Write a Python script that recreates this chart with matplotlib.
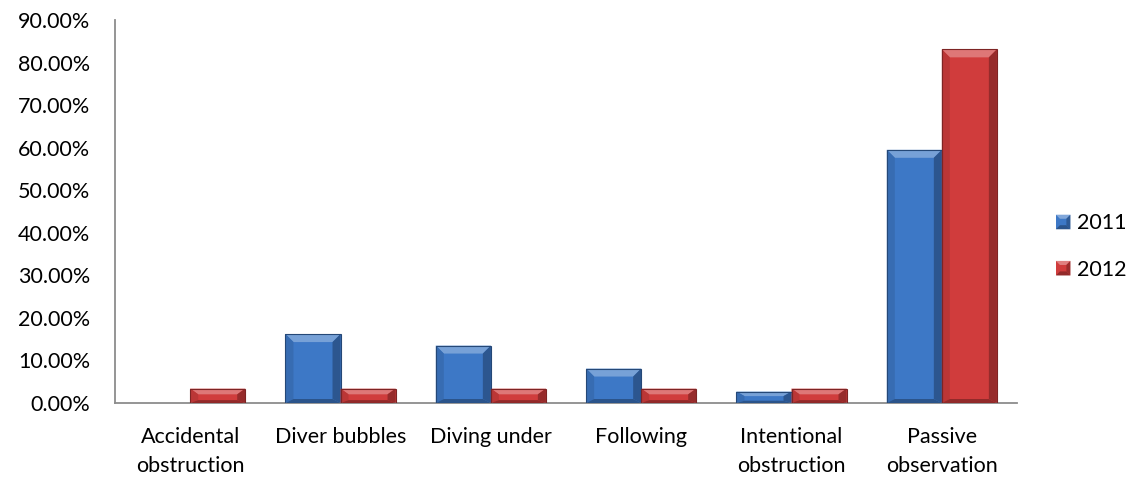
import matplotlib
matplotlib.use("Agg")
import matplotlib.pyplot as plt
from matplotlib.patches import Polygon, Patch
from matplotlib.legend_handler import HandlerPatch
import matplotlib.colors as mcolors
import numpy as np

categories = ["Accidental\nobstruction", "Diver bubbles", "Diving under",
              "Following", "Intentional\nobstruction", "Passive\nobservation"]
series_names = ["2011", "2012"]
values_2011 = [0.0, 16.2, 13.5, 8.1, 2.7, 59.5]
values_2012 = [3.4, 3.4, 3.4, 3.4, 3.4, 83.1]
y_ticks = [0, 10, 20, 30, 40, 50, 60, 70, 80, 90]

colors = {"2011": "#3d78c6", "2012": "#d03c3c"}

plt.rcParams["font.family"] = ["Lato", "DejaVu Sans"]
FS = 15.5

fig = plt.figure(figsize=(11.4, 4.83), dpi=100)
ax = fig.add_axes([0.1009, 0.1656, 0.7912, 0.793])

n = len(categories)
x = np.arange(n)
width = 0.366

ax.set_xlim(-0.5, n - 0.5)
ax.set_ylim(0, 90)


def shade(c, f):
    r, g, b = mcolors.to_rgb(c)
    if f >= 1:
        t = f - 1
        return (r + (1 - r) * t, g + (1 - g) * t, b + (1 - b) * t)
    return (r * f, g * f, b * f)


def bevel_bar(rect, color, bev_px=8):
    x0, y0 = rect.get_x(), rect.get_y()
    w, h = rect.get_width(), rect.get_height()
    if h <= 0:
        return
    # bevel size given in pixels, converted into data units
    p0 = ax.transData.transform((0, 0))
    p1 = ax.transData.transform((1, 1))
    ux = bev_px / (p1[0] - p0[0])
    uy = bev_px / (p1[1] - p0[1])
    by_top = min(uy, h * 0.4)
    by_bot = min(uy * 0.5, h * 0.2)
    bx = ux
    x1, y1 = x0 + w, y0 + h
    polys = [
        ([(x0, y1), (x1, y1), (x1 - bx, y1 - by_top), (x0 + bx, y1 - by_top)], shade(color, 1.3)),
        ([(x0, y0), (x0, y1), (x0 + bx, y1 - by_top), (x0 + bx, y0 + by_bot)], shade(color, 0.9)),
        ([(x1, y0), (x1, y1), (x1 - bx, y1 - by_top), (x1 - bx, y0 + by_bot)], shade(color, 0.72)),
        ([(x0, y0), (x1, y0), (x1 - bx, y0 + by_bot), (x0 + bx, y0 + by_bot)], shade(color, 0.7)),
    ]
    for pts, col in polys:
        ax.add_patch(Polygon(pts, closed=True, facecolor=col, edgecolor="none", zorder=3))
    ax.add_patch(Polygon([(x0, y0), (x1, y0), (x1, y1), (x0, y1)], closed=True,
                         facecolor="none", edgecolor=shade(color, 0.6), linewidth=0.8, zorder=4))


bars_2011 = ax.bar(x - width / 2, values_2011, width, color=colors["2011"], zorder=2)
bars_2012 = ax.bar(x + width / 2, values_2012, width, color=colors["2012"], zorder=2)

for rect in bars_2011:
    bevel_bar(rect, colors["2011"])
for rect in bars_2012:
    bevel_bar(rect, colors["2012"])

ax.set_yticks(y_ticks)
ax.set_yticklabels([f"{v:.2f}%" for v in y_ticks], fontsize=FS, color="black")
ax.set_xticks(x)
ax.set_xticklabels(categories, fontsize=FS, color="black", linespacing=1.56)
ax.tick_params(axis="y", length=0, pad=18)
ax.tick_params(axis="x", length=0, pad=17)

for s in ["top", "right"]:
    ax.spines[s].set_visible(False)
for s in ["left", "bottom"]:
    ax.spines[s].set_color("#8c8c8c")
    ax.spines[s].set_linewidth(1.3)


class BevelSquare(HandlerPatch):
    def create_artists(self, legend, orig_handle, xdescent, ydescent, width, height, fontsize, trans):
        c = orig_handle.get_facecolor()
        s = 10.5
        x0 = -xdescent + (width - s)
        y0 = -ydescent + (height - s) / 2
        b = s * 0.28
        arts = []
        x1, y1 = x0 + s, y0 + s
        parts = [
            ([(x0, y0), (x1, y0), (x1, y1), (x0, y1)], shade(c, 1.0)),
            ([(x0, y1), (x1, y1), (x1 - b, y1 - b), (x0 + b, y1 - b)], shade(c, 1.35)),
            ([(x1, y0), (x1, y1), (x1 - b, y1 - b), (x1 - b, y0 + b)], shade(c, 0.75)),
            ([(x0, y0), (x1, y0), (x1 - b, y0 + b), (x0 + b, y0 + b)], shade(c, 0.7)),
        ]
        for pts, col in parts:
            p = Polygon(pts, closed=True, facecolor=col, edgecolor="none", transform=trans)
            arts.append(p)
        return arts


handles = [Patch(facecolor=colors[s], label=s) for s in series_names]
leg = fig.legend(handles=handles, loc="center left", bbox_to_anchor=(0.922, 0.49),
                 frameon=False, fontsize=FS, handlelength=0.9, handleheight=0.9,
                 handletextpad=0.3, labelspacing=1.2, borderpad=0, borderaxespad=0,
                 handler_map={Patch: BevelSquare()})

fig.savefig("out.png", dpi=100)
